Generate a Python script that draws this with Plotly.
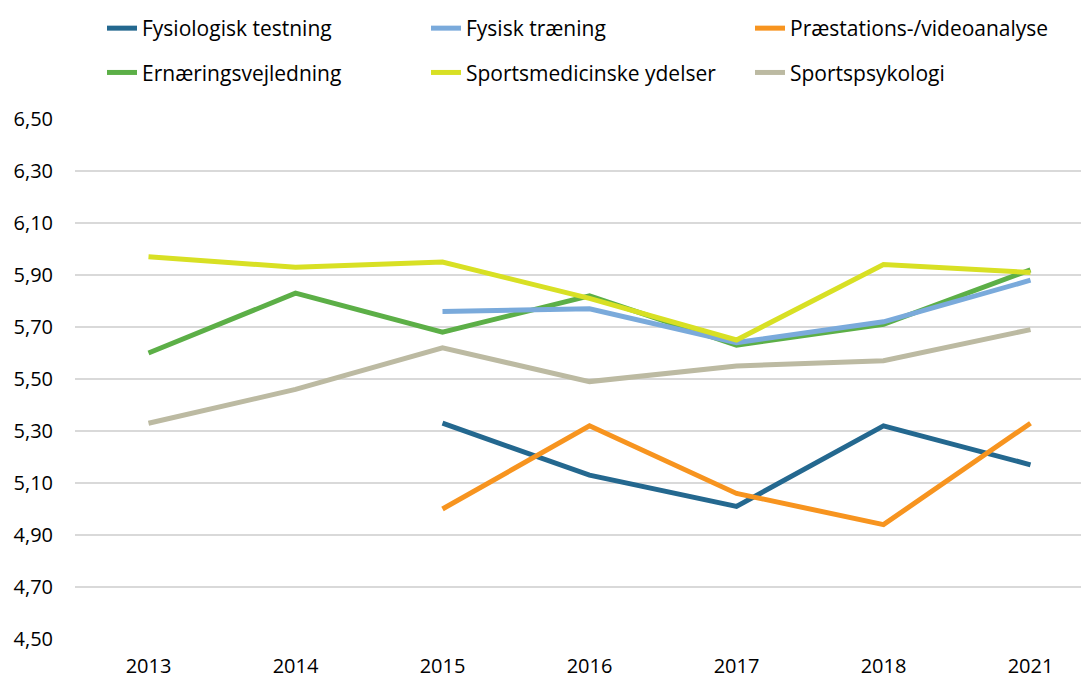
import plotly.graph_objects as go

years = ["2013", "2014", "2015", "2016", "2017", "2018", "2021"]

fysiologisk = [None, None, 5.33, 5.13, 5.01, 5.32, 5.17]
fysisk = [None, None, 5.76, 5.77, 5.64, 5.72, 5.88]
praestation = [None, None, 5.00, 5.32, 5.06, 4.94, 5.33]
ernaering = [5.60, 5.83, 5.68, 5.82, 5.63, 5.71, 5.92]
sportsmed = [5.97, 5.93, 5.95, 5.81, 5.65, 5.94, 5.91]
sportspsyk = [5.33, 5.46, 5.62, 5.49, 5.55, 5.57, 5.69]

series = [
    ("Fysiologisk testning", fysiologisk, "#24688F", "legend"),
    ("Ernæringsvejledning", ernaering, "#5CAF47", "legend"),
    ("Fysisk træning", fysisk, "#7AAADB", "legend2"),
    ("Sportsmedicinske ydelser", sportsmed, "#D8E024", "legend2"),
    ("Præstations-/videoanalyse", praestation, "#F7941F", "legend3"),
    ("Sportspsykologi", sportspsyk, "#BCBAA2", "legend3"),
]

yticks = [4.5, 4.7, 4.9, 5.1, 5.3, 5.5, 5.7, 5.9, 6.1, 6.3, 6.5]

W, H = 1081, 672

fig = go.Figure()
for i, (name, vals, color, lg) in enumerate(series):
    fig.add_trace(go.Scatter(
        x=years, y=vals, name=name, mode="lines",
        line=dict(color=color, width=5),
        legend=lg, legendgroup=name,
        connectgaps=False,
    ))

FONT = "Open Sans"
legend_common = dict(
    orientation="v", xref="container", yref="container",
    xanchor="left", yanchor="top", y=1 + 3 / H,
    font=dict(family=FONT, size=21, color="#000000"),
    bgcolor="rgba(0,0,0,0)", tracegroupgap=14, itemwidth=30,
)

fig.update_layout(
    width=W, height=H,
    paper_bgcolor="white", plot_bgcolor="white",
    margin=dict(l=67, r=0, t=111, b=41, autoexpand=False),
    separators=",.",
    font=dict(family=FONT, size=20, color="#000000"),
    legend=dict(x=94 / W, **legend_common),
    legend2=dict(x=418 / W, **legend_common),
    legend3=dict(x=742 / W, **legend_common),
    xaxis=dict(
        type="category", range=[-0.5, -0.5 + 1014 / 147],
        showgrid=False, showline=False, zeroline=False, ticks="",
        ticklabelstandoff=13, automargin=False,
        tickfont=dict(family=FONT, size=20, color="#000000"),
    ),
    yaxis=dict(
        range=[4.5, 6.5], tickvals=yticks, tickformat=".2f",
        showgrid=True, gridcolor="#D9D9D9", gridwidth=2,
        showline=False, zeroline=False, ticks="",
        ticklabelstandoff=21, automargin=False,
        tickfont=dict(family=FONT, size=20, color="#000000"),
    ),
)

fig.write_html("out.html")
